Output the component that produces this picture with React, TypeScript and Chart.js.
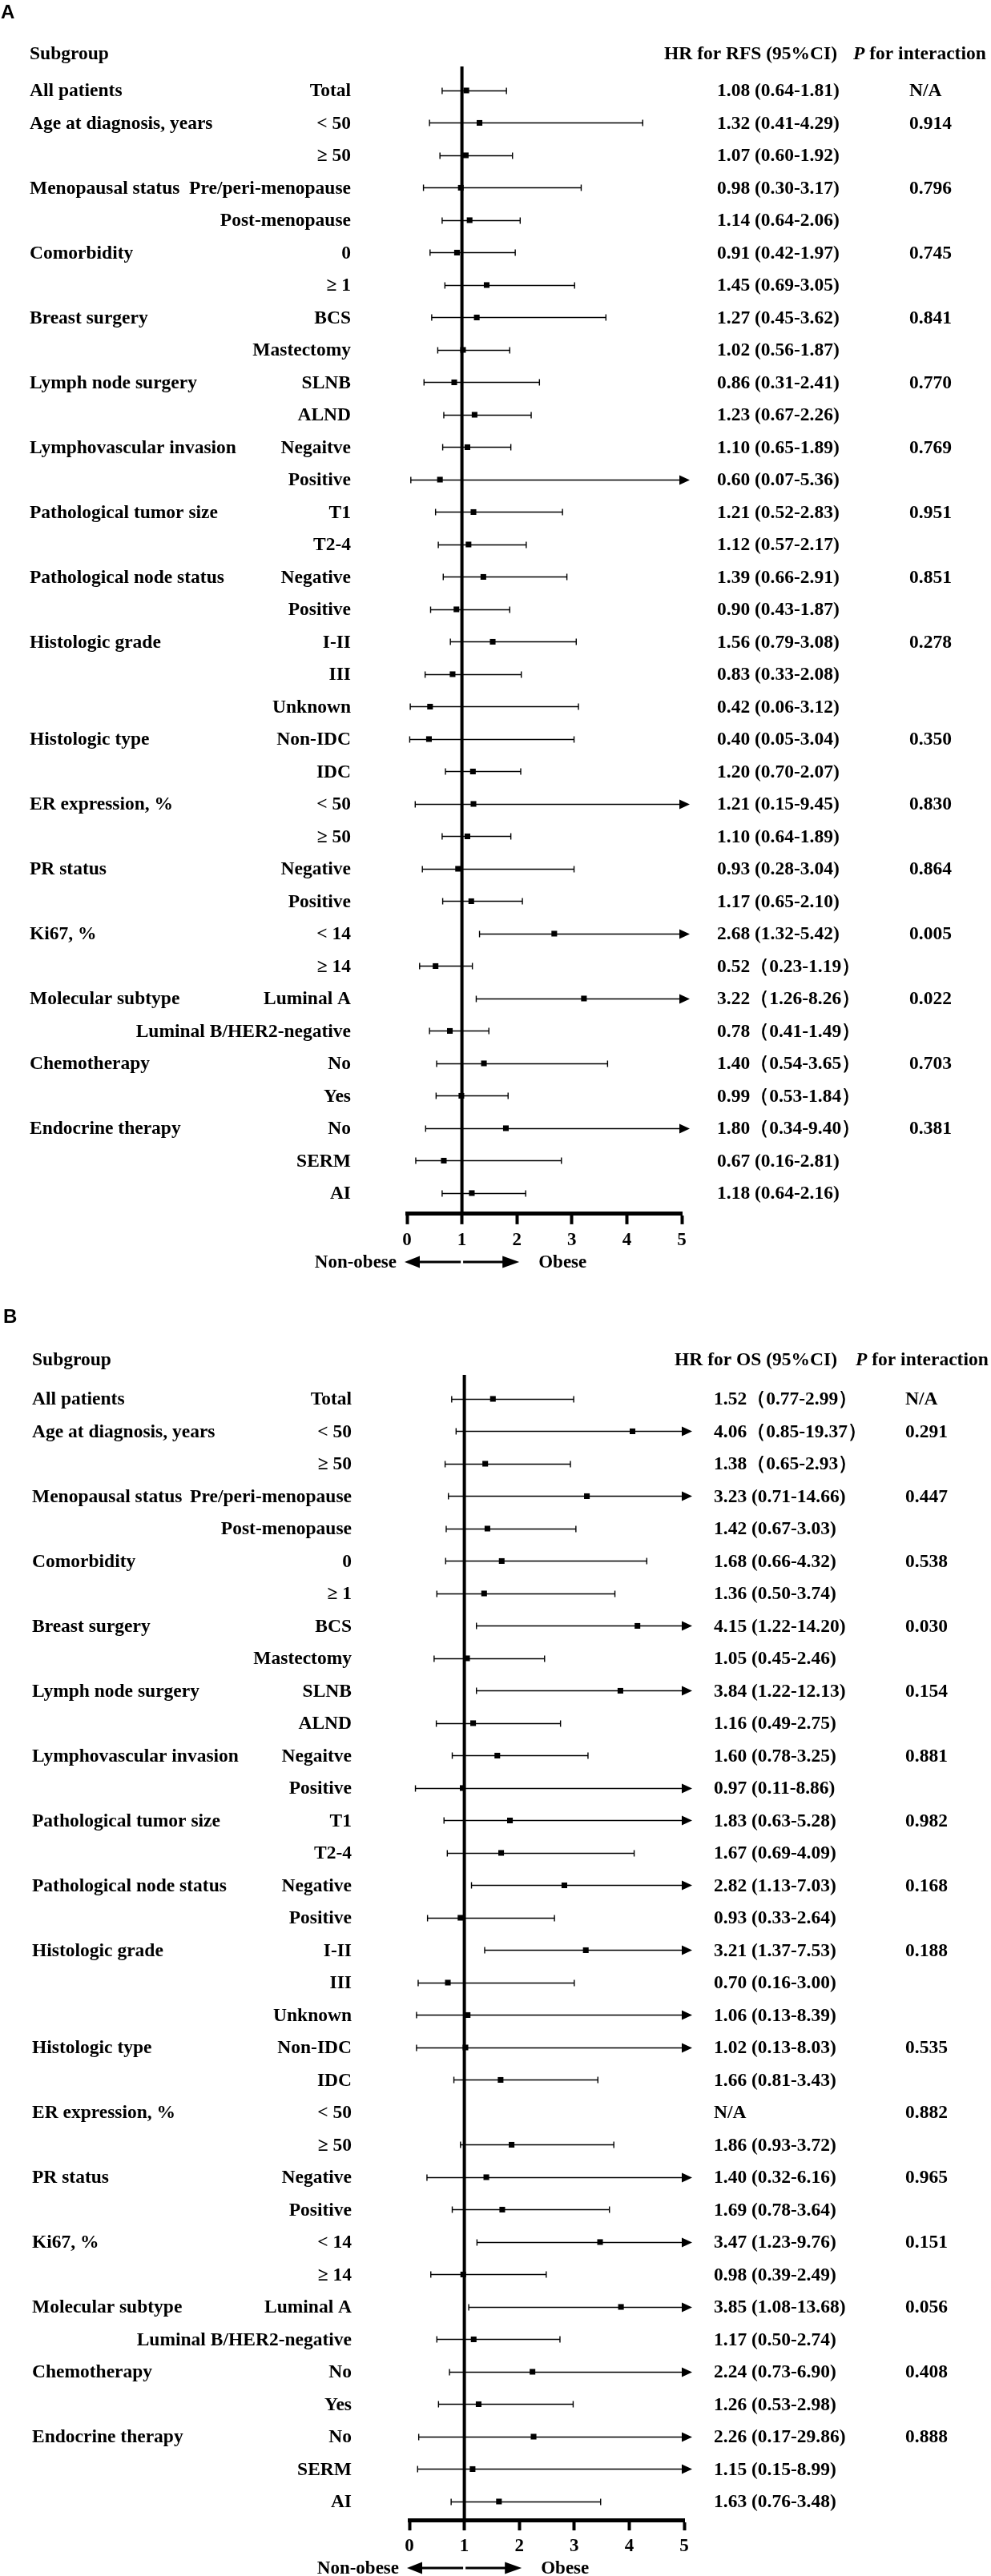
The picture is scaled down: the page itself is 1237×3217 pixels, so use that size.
import React, { useEffect, useRef } from 'react';
import { Chart, registerables } from 'chart.js';
Chart.register(...registerables);

const groupLabels: string[] = [
  'All patients', 'Age at diagnosis, years', '', 'Menopausal status', '', 'Comorbidity', '',
  'Breast surgery', '', 'Lymph node surgery', '', 'Lymphovascular invasion', '',
  'Pathological tumor size', '', 'Pathological node status', '', 'Histologic grade', '', '',
  'Histologic type', '', 'ER expression, %', '', 'PR status', '', 'Ki67, %', '',
  'Molecular subtype', '', 'Chemotherapy', '', 'Endocrine therapy', '', '',
];
const subLabels: string[] = [
  'Total', '< 50', '≥ 50', 'Pre/peri-menopause', 'Post-menopause', '0', '≥ 1',
  'BCS', 'Mastectomy', 'SLNB', 'ALND', 'Negaitve', 'Positive',
  'T1', 'T2-4', 'Negative', 'Positive', 'I-II', 'III', 'Unknown',
  'Non-IDC', 'IDC', '< 50', '≥ 50', 'Negative', 'Positive', '< 14', '≥ 14',
  'Luminal A', 'Luminal B/HER2-negative', 'No', 'Yes', 'No', 'SERM', 'AI',
];

// Panel A: RFS
const rfsHR: (number | null)[] = [1.08, 1.32, 1.07, 0.98, 1.14, 0.91, 1.45, 1.27, 1.02, 0.86, 1.23, 1.10, 0.60, 1.21, 1.12, 1.39, 0.90, 1.56, 0.83, 0.42, 0.40, 1.20, 1.21, 1.10, 0.93, 1.17, 2.68, 0.52, 3.22, 0.78, 1.40, 0.99, 1.80, 0.67, 1.18];
const rfsLo: (number | null)[] = [0.64, 0.41, 0.60, 0.30, 0.64, 0.42, 0.69, 0.45, 0.56, 0.31, 0.67, 0.65, 0.07, 0.52, 0.57, 0.66, 0.43, 0.79, 0.33, 0.06, 0.05, 0.70, 0.15, 0.64, 0.28, 0.65, 1.32, 0.23, 1.26, 0.41, 0.54, 0.53, 0.34, 0.16, 0.64];
const rfsHi: (number | null)[] = [1.81, 4.29, 1.92, 3.17, 2.06, 1.97, 3.05, 3.62, 1.87, 2.41, 2.26, 1.89, 5.36, 2.83, 2.17, 2.91, 1.87, 3.08, 2.08, 3.12, 3.04, 2.07, 9.45, 1.89, 3.04, 2.10, 5.42, 1.19, 8.26, 1.49, 3.65, 1.84, 9.40, 2.81, 2.16];
const rfsText: string[] = [
  '1.08 (0.64-1.81)', '1.32 (0.41-4.29)', '1.07 (0.60-1.92)', '0.98 (0.30-3.17)', '1.14 (0.64-2.06)',
  '0.91 (0.42-1.97)', '1.45 (0.69-3.05)', '1.27 (0.45-3.62)', '1.02 (0.56-1.87)', '0.86 (0.31-2.41)',
  '1.23 (0.67-2.26)', '1.10 (0.65-1.89)', '0.60 (0.07-5.36)', '1.21 (0.52-2.83)', '1.12 (0.57-2.17)',
  '1.39 (0.66-2.91)', '0.90 (0.43-1.87)', '1.56 (0.79-3.08)', '0.83 (0.33-2.08)', '0.42 (0.06-3.12)',
  '0.40 (0.05-3.04)', '1.20 (0.70-2.07)', '1.21 (0.15-9.45)', '1.10 (0.64-1.89)', '0.93 (0.28-3.04)',
  '1.17 (0.65-2.10)', '2.68 (1.32-5.42)', '0.52（0.23-1.19）', '3.22（1.26-8.26）', '0.78（0.41-1.49）',
  '1.40（0.54-3.65）', '0.99（0.53-1.84）', '1.80（0.34-9.40）', '0.67 (0.16-2.81)', '1.18 (0.64-2.16)',
];
const rfsP: string[] = [
  'N/A', '0.914', '', '0.796', '', '0.745', '', '0.841', '', '0.770', '', '0.769', '', '0.951', '',
  '0.851', '', '0.278', '', '', '0.350', '', '0.830', '', '0.864', '', '0.005', '', '0.022', '',
  '0.703', '', '0.381', '', '',
];

// Panel B: OS
const osHR: (number | null)[] = [1.52, 4.06, 1.38, 3.23, 1.42, 1.68, 1.36, 4.15, 1.05, 3.84, 1.16, 1.60, 0.97, 1.83, 1.67, 2.82, 0.93, 3.21, 0.70, 1.06, 1.02, 1.66, null, 1.86, 1.40, 1.69, 3.47, 0.98, 3.85, 1.17, 2.24, 1.26, 2.26, 1.15, 1.63];
const osLo: (number | null)[] = [0.77, 0.85, 0.65, 0.71, 0.67, 0.66, 0.50, 1.22, 0.45, 1.22, 0.49, 0.78, 0.11, 0.63, 0.69, 1.13, 0.33, 1.37, 0.16, 0.13, 0.13, 0.81, null, 0.93, 0.32, 0.78, 1.23, 0.39, 1.08, 0.50, 0.73, 0.53, 0.17, 0.15, 0.76];
const osHi: (number | null)[] = [2.99, 19.37, 2.93, 14.66, 3.03, 4.32, 3.74, 14.20, 2.46, 12.13, 2.75, 3.25, 8.86, 5.28, 4.09, 7.03, 2.64, 7.53, 3.00, 8.39, 8.03, 3.43, null, 3.72, 6.16, 3.64, 9.76, 2.49, 13.68, 2.74, 6.90, 2.98, 29.86, 8.99, 3.48];
const osText: string[] = [
  '1.52（0.77-2.99）', '4.06（0.85-19.37）', '1.38（0.65-2.93）', '3.23 (0.71-14.66)', '1.42 (0.67-3.03)',
  '1.68 (0.66-4.32)', '1.36 (0.50-3.74)', '4.15 (1.22-14.20)', '1.05 (0.45-2.46)', '3.84 (1.22-12.13)',
  '1.16 (0.49-2.75)', '1.60 (0.78-3.25)', '0.97 (0.11-8.86)', '1.83 (0.63-5.28)', '1.67 (0.69-4.09)',
  '2.82 (1.13-7.03)', '0.93 (0.33-2.64)', '3.21 (1.37-7.53)', '0.70 (0.16-3.00)', '1.06 (0.13-8.39)',
  '1.02 (0.13-8.03)', '1.66 (0.81-3.43)', 'N/A', '1.86 (0.93-3.72)', '1.40 (0.32-6.16)',
  '1.69 (0.78-3.64)', '3.47 (1.23-9.76)', '0.98 (0.39-2.49)', '3.85 (1.08-13.68)', '1.17 (0.50-2.74)',
  '2.24 (0.73-6.90)', '1.26 (0.53-2.98)', '2.26 (0.17-29.86)', '1.15 (0.15-8.99)', '1.63 (0.76-3.48)',
];
const osP: string[] = [
  'N/A', '0.291', '', '0.447', '', '0.538', '', '0.030', '', '0.154', '', '0.881', '', '0.982', '',
  '0.168', '', '0.188', '', '', '0.535', '', '0.882', '', '0.965', '', '0.151', '', '0.056', '',
  '0.408', '', '0.888', '', '',
];

const xTicks = [0, 1, 2, 3, 4, 5];
const leftLabel = 'Non-obese';
const rightLabel = 'Obese';

const SERIF = '"Liberation Serif", "Times New Roman", serif';
const FS = 23.5;
const ROW_H = 40.5;
const AXIS_H = 60;

type Geo = {
  height: number; letterX: number; letterY: number; headerY: number; top: number;
  padL: number; padR: number; a: number; b: number; groupX: number; subRight: number;
  hrX: number; pX: number; headerHrX: number; headerPX: number;
};

type PanelProps = {
  letter: string; header: string; hr: (number | null)[]; lo: (number | null)[]; hi: (number | null)[];
  hrText: string[]; pText: string[]; geo: Geo;
};

function Panel({ letter, header, hr, lo, hi, hrText, pText, geo }: PanelProps) {
  const ref = useRef<HTMLCanvasElement | null>(null);
  useEffect(() => {
    const canvas = ref.current;
    if (!canvas) return;
    const n = groupLabels.length;
    const yMin = -geo.a;
    const yMax = n - 1 + geo.b;
    const areaBottom = geo.top + (yMax - yMin) * ROW_H;
    const padBottom = geo.height - areaBottom - AXIS_H;
    const pts = hr.map((v, i) => (v == null ? null : { x: v, y: i })).filter(Boolean) as { x: number; y: number }[];

    const forest = {
      id: 'forest',
      beforeDatasetsDraw(chart: any) {
        const { ctx, scales } = chart;
        const x = scales.x, y = scales.y;
        const xMax = x.max;
        ctx.save();
        ctx.strokeStyle = '#000';
        ctx.fillStyle = '#000';
        for (let i = 0; i < hr.length; i++) {
          const l = lo[i], h = hi[i];
          if (hr[i] == null || l == null || h == null) continue;
          const py = Math.round(y.getPixelForValue(i)) + 0.5;
          const x1 = x.getPixelForValue(l);
          const over = h > xMax;
          const x2 = x.getPixelForValue(Math.min(h, xMax));
          ctx.lineWidth = 1.6;
          ctx.beginPath();
          ctx.moveTo(x1, py);
          ctx.lineTo(x2, py);
          ctx.stroke();
          ctx.lineWidth = 1.4;
          ctx.beginPath();
          ctx.moveTo(x1, py - 4);
          ctx.lineTo(x1, py + 4);
          if (!over) {
            ctx.moveTo(x2, py - 4);
            ctx.lineTo(x2, py + 4);
          }
          ctx.stroke();
          if (over) {
            ctx.beginPath();
            ctx.moveTo(x2 - 3, py - 6);
            ctx.lineTo(x2 + 10, py);
            ctx.lineTo(x2 - 3, py + 6);
            ctx.closePath();
            ctx.fill();
          }
        }
        ctx.restore();
      },
      afterDraw(chart: any) {
        const { ctx, scales } = chart;
        const x = scales.x, y = scales.y;
        ctx.save();
        ctx.fillStyle = '#000';
        ctx.textBaseline = 'middle';
        // panel letter
        ctx.font = 'bold 24px "Liberation Sans", Arial, sans-serif';
        ctx.textAlign = 'left';
        ctx.fillText(letter, geo.letterX, geo.letterY);
        // header
        ctx.font = `bold ${FS}px ${SERIF}`;
        ctx.fillText('Subgroup', geo.groupX, geo.headerY);
        ctx.fillText(header, geo.headerHrX, geo.headerY);
        ctx.font = `italic bold ${FS}px ${SERIF}`;
        ctx.fillText('P', geo.headerPX, geo.headerY);
        const pw = ctx.measureText('P').width;
        ctx.font = `bold ${FS}px ${SERIF}`;
        ctx.fillText(' for interaction', geo.headerPX + pw, geo.headerY);
        // rows
        for (let i = 0; i < groupLabels.length; i++) {
          const py = y.getPixelForValue(i) + 1;
          ctx.textAlign = 'left';
          if (groupLabels[i]) ctx.fillText(groupLabels[i], geo.groupX, py);
          if (hrText[i]) ctx.fillText(hrText[i], geo.hrX, py);
          if (pText[i]) ctx.fillText(pText[i], geo.pX, py);
          ctx.textAlign = 'right';
          ctx.fillText(subLabels[i], geo.subRight, py);
        }
        // direction arrows
        const ay = chart.chartArea.bottom + 60;
        const p0 = x.getPixelForValue(0), p1 = x.getPixelForValue(1), p2 = x.getPixelForValue(2);
        ctx.lineWidth = 3;
        ctx.strokeStyle = '#000';
        ctx.beginPath();
        ctx.moveTo(p1 - 1.5, ay);
        ctx.lineTo(p0 + 12, ay);
        ctx.moveTo(p1 + 1.5, ay);
        ctx.lineTo(p2 - 16, ay);
        ctx.stroke();
        ctx.beginPath();
        ctx.moveTo(p0 - 3, ay);
        ctx.lineTo(p0 + 16, ay - 7.5);
        ctx.lineTo(p0 + 16, ay + 7.5);
        ctx.closePath();
        ctx.fill();
        ctx.beginPath();
        ctx.moveTo(p2 + 3, ay);
        ctx.lineTo(p2 - 18, ay - 7.5);
        ctx.lineTo(p2 - 18, ay + 7.5);
        ctx.closePath();
        ctx.fill();
        ctx.font = `bold 23px ${SERIF}`;
        ctx.textAlign = 'right';
        ctx.fillText(leftLabel, p0 - 13, ay + 1);
        ctx.textAlign = 'left';
        ctx.fillText(rightLabel, p2 + 27, ay + 1);
        ctx.restore();
      },
    };

    const chart = new Chart(canvas, {
      type: 'scatter',
      data: {
        datasets: [
          {
            type: 'line',
            data: [{ x: 1, y: yMin }, { x: 1, y: yMax }],
            borderColor: '#000',
            borderWidth: 4,
            pointRadius: 0,
            fill: false,
          } as any,
          {
            type: 'scatter',
            data: pts,
            pointStyle: 'rect',
            pointRadius: 5,
            backgroundColor: '#000',
            borderColor: '#000',
            borderWidth: 0,
          } as any,
        ],
      },
      options: {
        responsive: false,
        animation: false,
        devicePixelRatio: 1,
        events: [],
        layout: { padding: { top: geo.top, left: geo.padL, right: geo.padR, bottom: padBottom } },
        plugins: { legend: { display: false }, tooltip: { enabled: false } },
        scales: {
          x: {
            type: 'linear',
            position: 'bottom',
            min: 0,
            max: 5,
            afterBuildTicks: (s: any) => { s.ticks = xTicks.map((v) => ({ value: v })); },
            afterFit: (s: any) => { s.height = AXIS_H; },
            ticks: {
              stepSize: 1,
              color: '#000',
              padding: 6,
              font: { family: SERIF, weight: 'bold', size: 23 },
            },
            grid: {
              display: true,
              drawOnChartArea: false,
              drawTicks: true,
              tickLength: 13,
              tickWidth: 4,
              tickColor: '#000',
              color: '#000',
            },
            border: { display: true, width: 5, color: '#000' },
          },
          y: {
            type: 'linear',
            display: false,
            reverse: true,
            min: yMin,
            max: yMax,
          },
        },
      } as any,
      plugins: [forest],
    });
    return () => chart.destroy();
  }, []);
  return <canvas ref={ref} width={1237} height={geo.height} style={{ display: 'block', width: 1237, height: geo.height }} />;
}

const geoA: Geo = {
  height: 1620, letterX: 1, letterY: 16, headerY: 68, top: 83, padL: 508, padR: 386, a: 0.74, b: 0.64,
  groupX: 37, subRight: 438, hrX: 895, pX: 1135, headerHrX: 829, headerPX: 1065,
};
const geoB: Geo = {
  height: 1597, letterX: 4, letterY: 25, headerY: 79, top: 97, padL: 511, padR: 383, a: 0.74, b: 0.57,
  groupX: 40, subRight: 439, hrX: 891, pX: 1130, headerHrX: 842, headerPX: 1068,
};

export default function App() {
  useEffect(() => {
    document.body.style.margin = '0';
    document.body.style.background = '#fff';
  }, []);
  return (
    <div style={{ width: 1237, background: '#fff' }}>
      <Panel letter="A" header="HR for RFS (95%CI)" hr={rfsHR} lo={rfsLo} hi={rfsHi} hrText={rfsText} pText={rfsP} geo={geoA} />
      <Panel letter="B" header="HR for OS (95%CI)" hr={osHR} lo={osLo} hi={osHi} hrText={osText} pText={osP} geo={geoB} />
    </div>
  );
}
